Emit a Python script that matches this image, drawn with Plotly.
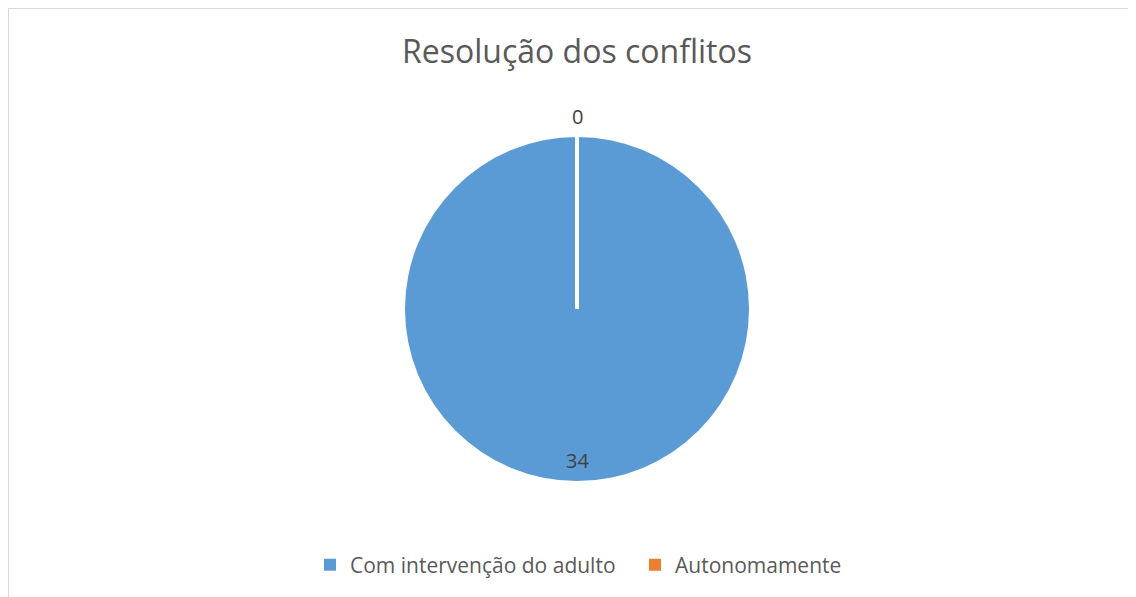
import plotly.graph_objects as go

title = "Resolução dos conflitos"
categories = ["Com intervenção do adulto", "Autonomamente"]
values = [34, 0]
colors = ["#5B9BD5", "#ED7D31"]

W, H = 1136, 597
cx, cy, r = 569, 301, 172

fig = go.Figure()
fig.add_trace(go.Pie(
    labels=categories,
    values=values,
    sort=False,
    direction="clockwise",
    rotation=0,
    marker=dict(colors=colors, line=dict(color="white", width=0)),
    textinfo="none",
    hoverinfo="label+value",
    domain=dict(x=[(cx - r) / W, (cx + r) / W], y=[1 - (cy + r) / H, 1 - (cy - r) / H]),
    showlegend=True,
))

# white separator line (slice boundary at 12 o'clock)
fig.add_shape(type="line", xref="paper", yref="paper",
              x0=cx / W, x1=cx / W, y0=1 - cy / H, y1=1 - (cy - r - 1) / H,
              line=dict(color="white", width=4))

# data labels
fig.add_annotation(x=cx / W, y=1 - 109 / H, xref="paper", yref="paper",
                   xanchor="center", yanchor="middle",
                   text=str(values[1]), showarrow=False,
                   font=dict(size=20, color="#404040", family="Open Sans"))
fig.add_annotation(x=cx / W, y=1 - 452 / H, xref="paper", yref="paper",
                   xanchor="center", yanchor="middle",
                   text=str(values[0]), showarrow=False,
                   font=dict(size=20, color="#404040", family="Open Sans"))

# chart area border
fig.add_shape(type="rect", xref="paper", yref="paper",
              x0=0, x1=1.05, y0=-0.05, y1=1,
              line=dict(color="#D9D9D9", width=2), fillcolor="rgba(0,0,0,0)")

fig.update_layout(
    width=W, height=H,
    margin=dict(l=0, r=0, t=0, b=0),
    paper_bgcolor="white", plot_bgcolor="white",
    title=dict(text=title, x=cx / W, xanchor="center", y=1 - 44 / H, yanchor="middle",
               font=dict(size=32, color="#595959", family="Open Sans")),
    legend=dict(orientation="h", x=302 / W, xanchor="left", y=1 - 557 / H, yanchor="middle",
                font=dict(size=21, color="#595959", family="Open Sans"),
                itemwidth=30, entrywidth=280, entrywidthmode="pixels",
                traceorder="normal"),
)

fig.write_html("out.html")
